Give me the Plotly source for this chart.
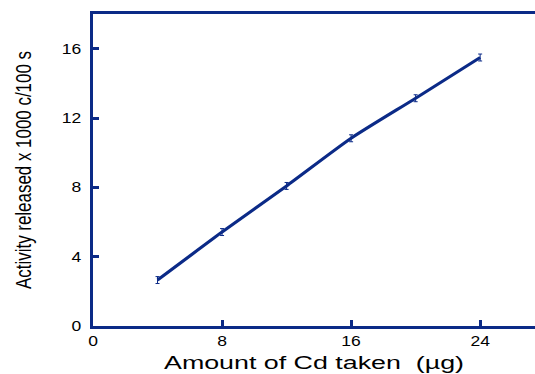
import plotly.graph_objects as go

# Cd amount (µg) vs released activity (x1000 counts / 100 s)
cd_ug = [4, 8, 12, 16, 20, 24]
activity = [2.65, 5.42, 8.08, 10.83, 13.14, 15.49]
activity_err = [0.2, 0.2, 0.2, 0.2, 0.2, 0.2]

x_ticks = [0, 8, 16, 24]
y_ticks = [0, 4, 8, 12, 16]

navy = "#0b2a87"

fig = go.Figure()
fig.add_trace(go.Scatter(
    x=cd_ug, y=activity,
    mode="lines",
    line=dict(color=navy, width=3.2, shape="spline", smoothing=0.6),
    error_y=dict(type="data", array=activity_err, color=navy, thickness=1, width=2),
    showlegend=False,
))

fig.update_layout(
    width=535, height=374,
    margin=dict(l=93, r=0, t=14, b=48),
    plot_bgcolor="white", paper_bgcolor="white",
    font=dict(family="Liberation Sans, Arial", color="black", size=14),
)
fig.update_xaxes(
    range=[0, 27.4], tickvals=x_ticks, ticktext=[str(v) for v in x_ticks],
    showgrid=False, zeroline=False,
    showline=True, linecolor=navy, linewidth=3, mirror=True,
    ticks="inside", ticklen=6, tickwidth=3, tickcolor=navy,
    tickfont=dict(size=14),
    title=dict(text="Amount of Cd taken  (µg)", font=dict(size=17.5), standoff=9),
)
fig.update_yaxes(
    range=[0, 18], tickvals=y_ticks, ticktext=[str(v) for v in y_ticks],
    showgrid=False, zeroline=False,
    showline=True, linecolor=navy, linewidth=3, mirror=False,
    ticks="inside", ticklen=6, tickwidth=3, tickcolor=navy,
    tickfont=dict(size=14), ticklabelstandoff=6,
    title=dict(text="Activity released x 1000 c/100 s",
               font=dict(size=22), standoff=28),
)

# Stretch the axis titles and tick labels horizontally (wide x title,
# condensed y title) using SVG textLength.
post = """
var gd = document.getElementById('{plot_id}');
function fit(sel, len) {
  gd.querySelectorAll(sel).forEach(function (t) {
    t.setAttribute('textLength', len);
    t.setAttribute('lengthAdjust', 'spacingAndGlyphs');
  });
}
function scale(sel, k) {
  gd.querySelectorAll(sel).forEach(function (t) {
    var w = t.getComputedTextLength();
    t.setAttribute('textLength', w * k);
    t.setAttribute('lengthAdjust', 'spacingAndGlyphs');
  });
}
fit('text.xtitle', 300);
fit('text.ytitle', 238);
scale('g.xtick text', 1.25);
scale('g.ytick text', 1.25);
"""

fig.write_html("out.html", post_script=post)
